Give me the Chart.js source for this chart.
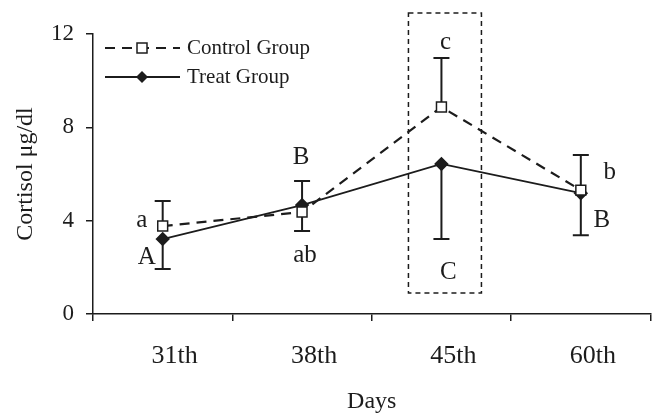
<!DOCTYPE html>
<html>
<head>
<meta charset="utf-8">
<script src="https://cdn.jsdelivr.net/npm/chart.js@4.4.1/dist/chart.umd.min.js"></script>
<style>
  html, body { margin: 0; padding: 0; background: #fff; }
</style>
</head>
<body>
<canvas id="cortisol" width="659" height="414"></canvas>
<script>
// data
var days = ['31th', '38th', '45th', '60th'];
var controlMean = [3.77, 4.37, 8.87, 5.31];
var controlSE = [1.07, 0.81, 2.10, 1.50];
var controlBarSide = [1, -1, 1, 1];   // which half of the error bar is drawn
var treatMean = [3.21, 4.67, 6.43, 5.18];
var treatSE = [1.28, 1.03, 3.22, 1.81];
var treatBarSide = [-1, 1, -1, -1];
var controlLetters = ['a', 'ab', 'c', 'b'];
var treatLetters = ['A', 'B', 'C', 'B'];
var yTicks = [0, 4, 8, 12];

var ink = '#1c1c1c';
var serif = '"Liberation Serif", "DejaVu Serif", serif';

// letter offsets from their point, in px
var controlLetterPos = [[-21, -6], [3, 43], [4, -65], [29, -18]];
var treatLetterPos = [[-16, 18], [-1, -48], [7, 108], [21, 27]];

var extras = {
    id: 'extras',
    beforeDatasetsDraw: function (chart) {
        var c = chart.ctx, xs = chart.scales.x, ys = chart.scales.y;
        c.save();
        c.strokeStyle = ink;
        c.lineWidth = 2;
        c.setLineDash([]);
        function bar(mean, se, side) {
            mean.forEach(function (m, i) {
                var px = xs.getPixelForValue(i);
                var y0 = ys.getPixelForValue(m);
                var y1 = ys.getPixelForValue(m + side[i] * se[i]);
                c.beginPath();
                c.moveTo(px, y0); c.lineTo(px, y1);
                c.moveTo(px - 8, y1); c.lineTo(px + 8, y1);
                c.stroke();
            });
        }
        bar(controlMean, controlSE, controlBarSide);
        bar(treatMean, treatSE, treatBarSide);
        c.restore();
    },
    afterDraw: function (chart) {
        var c = chart.ctx, xs = chart.scales.x, ys = chart.scales.y;
        c.save();
        c.fillStyle = ink;
        c.font = '25px ' + serif;
        c.textAlign = 'center';
        c.textBaseline = 'middle';
        controlLetters.forEach(function (t, i) {
            c.fillText(t, xs.getPixelForValue(i) + controlLetterPos[i][0],
                ys.getPixelForValue(controlMean[i]) + controlLetterPos[i][1]);
        });
        treatLetters.forEach(function (t, i) {
            c.fillText(t, xs.getPixelForValue(i) + treatLetterPos[i][0],
                ys.getPixelForValue(treatMean[i]) + treatLetterPos[i][1]);
        });

        // dashed box around the 45th day
        var bx = xs.getPixelForValue(2);
        var top = ys.getPixelForValue(12.9), bottom = ys.getPixelForValue(0.9);
        c.strokeStyle = ink;
        c.lineWidth = 1.5;
        c.setLineDash([5, 4]);
        c.strokeRect(bx - 33, top, 73, bottom - top);

        // legend
        c.lineWidth = 2.2;
        c.setLineDash([10, 7]);
        c.beginPath(); c.moveTo(105, 48); c.lineTo(180, 48); c.stroke();
        c.setLineDash([]);
        c.fillStyle = '#fff';
        c.fillRect(137, 43, 10, 10);
        c.lineWidth = 1.5;
        c.strokeRect(137, 43, 10, 10);
        c.lineWidth = 1.8;
        c.beginPath(); c.moveTo(105, 77); c.lineTo(180, 77); c.stroke();
        c.fillStyle = ink;
        c.beginPath();
        c.moveTo(142, 71); c.lineTo(148, 77); c.lineTo(142, 83); c.lineTo(136, 77);
        c.closePath(); c.fill();
        c.font = '21px ' + serif;
        c.textAlign = 'left';
        c.fillText('Control Group', 187, 48);
        c.fillText('Treat Group', 187, 77);
        c.restore();
    }
};

new Chart(document.getElementById('cortisol'), {
    type: 'line',
    data: {
        labels: days,
        datasets: [{
            label: 'Control Group',
            data: controlMean,
            borderColor: ink,
            borderWidth: 2.2,
            borderDash: [10, 7],
            pointStyle: 'rect',
            pointRadius: 7,
            pointBorderWidth: 1.5,
            pointBackgroundColor: '#fff',
            pointBorderColor: ink,
            fill: false,
            tension: 0
        }, {
            label: 'Treat Group',
            data: treatMean,
            borderColor: ink,
            borderWidth: 1.8,
            pointStyle: 'rectRot',
            pointRadius: 6,
            pointBackgroundColor: ink,
            pointBorderColor: ink,
            fill: false,
            tension: 0
        }]
    },
    options: {
        responsive: false,
        animation: false,
        layout: { padding: { top: 34, right: 4, left: 0, bottom: 0 } },
        plugins: { legend: { display: false }, tooltip: { enabled: false } },
        scales: {
            x: {
                offset: true,
                grid: { offset: true, drawOnChartArea: false, tickLength: 7, color: ink, lineWidth: 1.5 },
                border: { color: ink, width: 1.5 },
                ticks: { font: { family: serif, size: 26 }, color: ink, labelOffset: 12, padding: 20, maxRotation: 0 },
                title: { display: true, text: 'Days', color: ink, font: { family: serif, size: 24 }, padding: { top: 0, bottom: -2 } },
                afterFit: function (s) { s.height = 100; }
            },
            y: {
                min: 0,
                max: 12,
                afterBuildTicks: function (s) { s.ticks = yTicks.map(function (v) { return { value: v }; }); },
                grid: { drawOnChartArea: false, tickLength: 7, color: ink, lineWidth: 1.5 },
                border: { color: ink, width: 1.5 },
                ticks: { font: { family: serif, size: 23 }, color: ink, padding: 12 },
                title: { display: true, text: 'Cortisol μg/dl', color: ink, font: { family: serif, size: 24 }, padding: { top: 11, bottom: 0 } },
                afterFit: function (s) { s.width = 93; }
            }
        }
    },
    plugins: [extras]
});
</script>
</body>
</html>
